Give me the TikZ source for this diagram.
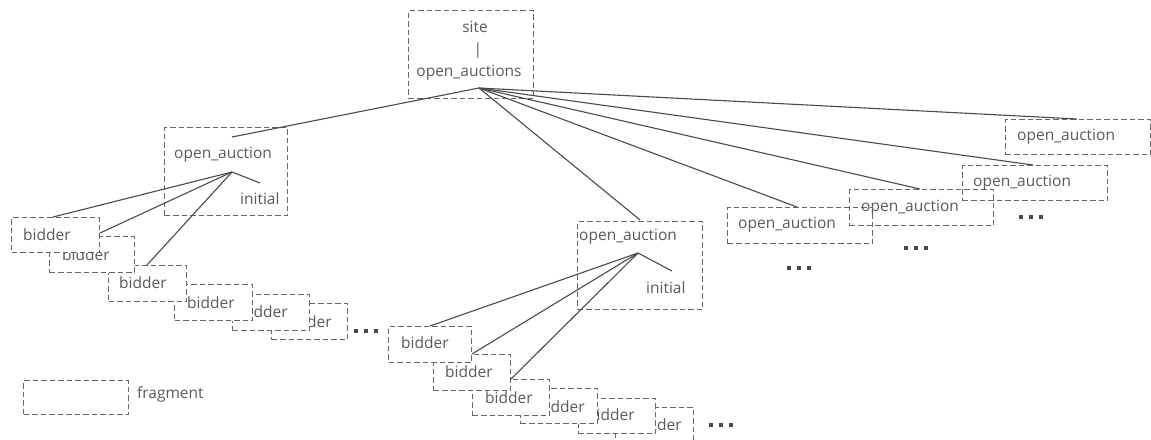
\documentclass[tikz,border=0pt]{standalone}
\usepackage{fontspec}
\setmainfont{Open Sans}
\definecolor{edgegray}{HTML}{666666}
\definecolor{linkgray}{HTML}{4A4A4A}
\definecolor{txtgray}{HTML}{5A5A5A}
\newcommand\moredots{\rule{4pt}{4pt}\hspace{6pt}\rule{4pt}{4pt}\hspace{6pt}\rule{4pt}{4pt}}
\tikzset{
  frag/.style={draw=edgegray, line width=1pt, dash pattern=on 5.5pt off 3pt,
    rectangle, inner sep=0pt, anchor=north west},
  solidfrag/.style={frag, fill=white},
  lbl/.style={inner sep=0pt, text=txtgray, anchor=west},
  link/.style={draw=linkgray, line width=1.1pt},
  ellip/.style={inner sep=0pt, text=linkgray, font=\normalsize}
}
\begin{document}
\begin{tikzpicture}[x=1pt, y=-1pt, font=\fontsize{15.5}{18}\selectfont]
\useasboundingbox (0,0) rectangle (1151,439);
\begin{scope}
\clip (0,0) rectangle (1151,439);

% root fragment
\node[frag, minimum width=125pt, minimum height=88pt] (root) at (408,10) {};
\node[lbl, anchor=center] (rootA) at (475,27) {site};
\node[lbl, anchor=center] (rootB) at (478,50) {|};
\node[lbl, anchor=center] (rootC) at (469,73) {open\_auctions};

% left open_auction fragment
\node[frag, minimum width=123pt, minimum height=88pt] (oaL) at (164,127) {};
\node[lbl] (oaLt) at (174,155) {open\_auction};
\node[lbl] (oaLi) at (240,199) {initial};

% middle open_auction fragment
\node[frag, minimum width=125pt, minimum height=88pt] (oaM) at (577,221) {};
\node[lbl] (oaMt) at (579,237) {open\_auction};
\node[lbl] (oaMi) at (646,288) {initial};

% right open_auction fragments
\node[frag, minimum width=145pt, minimum height=35pt] (oaA) at (1005,119) {};
\node[lbl] (oaAt) at (1017,137) {open\_auction};
\node[frag, minimum width=145pt, minimum height=35pt] (oaB) at (962,165) {};
\node[lbl] (oaBt) at (973,183) {open\_auction};
\node[frag, minimum width=144pt, minimum height=36pt] (oaC) at (849,189) {};
\node[lbl] (oaCt) at (861,208) {open\_auction};
\node[frag, minimum width=145pt, minimum height=36pt] (oaD) at (727,207) {};
\node[lbl] (oaDt) at (738,225) {open\_auction};

% left bidder stack (drawn back to front)
\node[solidfrag, minimum width=76pt, minimum height=36pt] (L6) at (271,303) {};
\node[lbl] (L6t) at (284,322) {bidder};
\node[solidfrag, minimum width=77pt, minimum height=36pt] (L5) at (232,294) {};
\node[lbl] (L5t) at (240,312) {bidder};
\node[solidfrag, minimum width=78pt, minimum height=36pt] (L4) at (174,284) {};
\node[lbl] (L4t) at (187,303) {bidder};
\node[solidfrag, minimum width=78pt, minimum height=36pt] (L3) at (108,265) {};
\node[lbl] (L3t) at (119,283) {bidder};
\node[solidfrag, minimum width=85pt, minimum height=36pt] (L2) at (49,236) {};
\node[lbl] (L2t) at (62,255) {bidder};
\node[solidfrag, minimum width=88pt, minimum height=35pt] (L1) at (11,217) {};
\node[lbl] (L1t) at (23,235) {bidder};

% middle bidder stack (drawn back to front)
\node[solidfrag, minimum width=78pt, minimum height=40pt] (M6) at (615,407) {};
\node[lbl] (M6t) at (634,425) {bidder};
\node[solidfrag, minimum width=77pt, minimum height=35pt] (M5) at (578,398) {};
\node[lbl] (M5t) at (587,415) {bidder};
\node[solidfrag, minimum width=77pt, minimum height=35pt] (M4) at (520,388) {};
\node[lbl] (M4t) at (537,407) {bidder};
\node[solidfrag, minimum width=77pt, minimum height=36pt] (M3) at (472,379) {};
\node[lbl] (M3t) at (485,398) {bidder};
\node[solidfrag, minimum width=77pt, minimum height=36pt] (M2) at (433,354) {};
\node[lbl] (M2t) at (445,372) {bidder};
\node[solidfrag, minimum width=83pt, minimum height=36pt] (M1) at (388,326) {};
\node[lbl] (M1t) at (401,343) {bidder};

% continuation marks
\node[ellip] (dotsL) at (366,331) {\moredots};
\node[ellip] (dotsM) at (721,425) {\moredots};
\node[ellip] (dotsD) at (799,268) {\moredots};
\node[ellip] (dotsC) at (916,248) {\moredots};
\node[ellip] (dotsB) at (1031,217) {\moredots};

% legend
\node[frag, minimum width=105pt, minimum height=34pt] (legend) at (23,380) {};
\node[lbl] (legendt) at (137,394) {fragment};

% hubs and connector ends
\coordinate (hubR) at (479,88);
\coordinate (hubL) at (232,172);
\coordinate (hubM) at (638,253);
\coordinate (inL) at (232,137);
\coordinate (inM) at (640,220);
\coordinate (inD) at (797,207);
\coordinate (inC) at (920,189);
\coordinate (inB) at (1033,165);
\coordinate (inA) at (1077,119);
\coordinate (iniL) at (260,183);
\coordinate (iniM) at (672,271);
\coordinate (toL1) at (53,217);
\coordinate (toL2) at (100,233);
\coordinate (toL3) at (147,265);
\coordinate (toM1) at (430,326);
\coordinate (toM2) at (472,354);
\coordinate (toM3) at (511,379);

% connectors
\foreach \t in {inL,inM,inD,inC,inB,inA}
  \draw[link] (hubR) -- (\t);
\foreach \t in {iniL,toL1,toL2,toL3}
  \draw[link] (hubL) -- (\t);
\foreach \t in {iniM,toM1,toM2,toM3}
  \draw[link] (hubM) -- (\t);
\end{scope}
\end{tikzpicture}
\end{document}
